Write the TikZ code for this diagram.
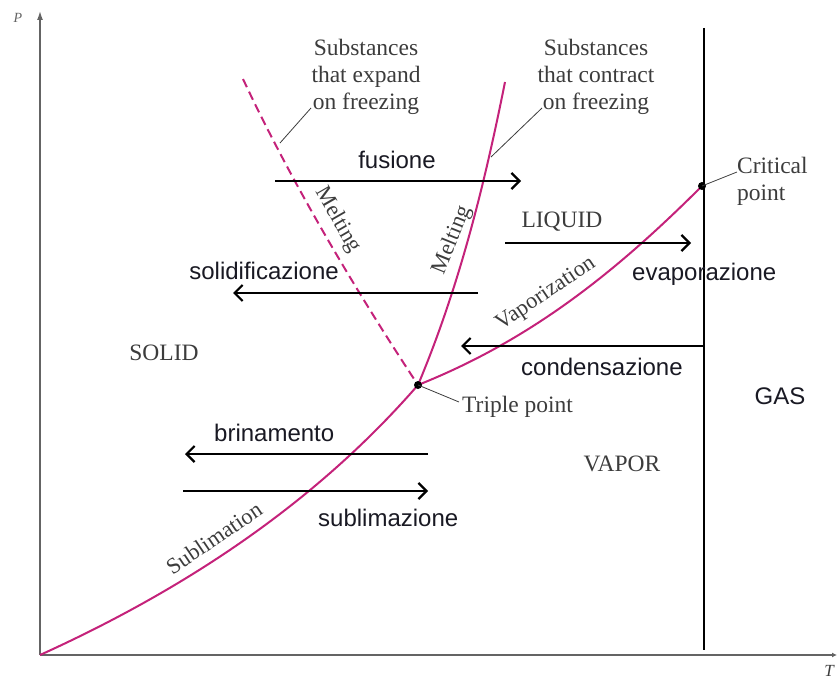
\documentclass[tikz,border=0pt]{standalone}
\usepackage{fontspec}
\setmainfont{Liberation Serif}
\newfontfamily\arialfont{Liberation Sans}
\usetikzlibrary{arrows.meta}
\definecolor{phase}{RGB}{196,34,122}
\definecolor{axisgray}{RGB}{100,100,100}
\definecolor{serifgray}{RGB}{60,60,60}
\definecolor{sanstxt}{RGB}{25,25,35}
\begin{document}
\begin{tikzpicture}[x=1pt,y=-1pt,
  phasecurve/.style={draw=phase, line width=2pt},
  phasedash/.style={draw=phase, line width=2pt, dash pattern=on 9pt off 5pt},
  axisline/.style={draw=axisgray, line width=1.4pt},
  procarrow/.style={draw=black, line width=2.4pt, -{Straight Barb[length=8pt,width=16pt,line width=2.2pt]}},
  leader/.style={draw=serifgray, line width=0.8pt},
  proclbl/.style={font=\arialfont\fontsize{24}{28}\selectfont, text=sanstxt, inner sep=0pt},
  seriflbl/.style={font=\fontsize{23.5}{27}\selectfont, text=serifgray, inner sep=0pt},
  curvelbl/.style={font=\fontsize{22.5}{26}\selectfont, text=serifgray, inner sep=0pt},
  dotpt/.style={fill=black}
]
\useasboundingbox (0,0) rectangle (838,682);
% axes
\coordinate (O) at (40,655);
\coordinate (Ptop) at (40,11);
\coordinate (Tend) at (837,655);
\draw[axisline, -{Latex[length=9pt,width=6pt]}] (O) -- (Ptop);
\draw[axisline, -{Latex[length=5pt,width=5pt]}] (O) -- (Tend);
\node[font=\fontsize{14}{16}\selectfont\itshape, text=axisgray, inner sep=0pt] (Plbl) at (18,18) {P};
\node[font=\fontsize{17}{19}\selectfont\itshape, text=serifgray, inner sep=0pt] (Tlbl) at (829,671) {T};
% key points
\coordinate (tp) at (418,385);
\coordinate (cp) at (702,186);
\coordinate (mtop) at (505,82);
\coordinate (dtop) at (243,79);
% vertical critical isotherm
\coordinate (vt) at (704,28);
\coordinate (vb) at (704,650);
\draw[draw=black, line width=2pt] (vt) -- (vb);
% phase curves
\draw[phasecurve] (O) .. controls (190,587) and (318,500) .. (tp);
\draw[phasecurve] (tp) .. controls (528,341) and (612,276) .. (cp);
\draw[phasecurve] (tp) .. controls (460,285) and (485,182) .. (mtop);
\draw[phasedash] (dtop) .. controls (290,179) and (352,285) .. (tp);
\fill[dotpt] (tp) circle[radius=4pt];
\fill[dotpt] (cp) circle[radius=4pt];
% process arrows
\coordinate (fA) at (275,181); \coordinate (fB) at (521,181);
\coordinate (sA) at (478,293); \coordinate (sB) at (233,293);
\coordinate (eA) at (505,243); \coordinate (eB) at (691,243);
\coordinate (cA) at (704,346); \coordinate (cB) at (461,346);
\coordinate (bA) at (428,454); \coordinate (bB) at (185,454);
\coordinate (uA) at (183,491); \coordinate (uB) at (428,491);
\draw[procarrow] (fA) -- (fB);
\draw[procarrow] (sA) -- (sB);
\draw[procarrow] (eA) -- (eB);
\draw[procarrow] (cA) -- (cB);
\draw[procarrow] (bA) -- (bB);
\draw[procarrow] (uA) -- (uB);
% process labels
\node[proclbl, anchor=base] (fus) at (397,168) {fusione};
\node[proclbl, anchor=base east] (sol) at (339,279) {solidificazione};
\node[proclbl, anchor=base west] (eva) at (632,280) {evaporazione};
\node[proclbl, anchor=base west] (con) at (521,375) {condensazione};
\node[proclbl, anchor=base west] (bri) at (214,441) {brinamento};
\node[proclbl, anchor=base west] (sub) at (318,526) {sublimazione};
\node[proclbl, anchor=base] (gas) at (780,404) {GAS};
% phase region labels
\node[seriflbl, anchor=base] (liq) at (562,227) {LIQUID};
\node[seriflbl, anchor=base] (sld) at (164,360) {SOLID};
\node[seriflbl, anchor=base] (vap) at (622,471) {VAPOR};
% annotations
\node[seriflbl, align=center] (expand) at (366,77) {Substances\\that expand\\on freezing};
\node[seriflbl, align=center] (contract) at (596,77) {Substances\\that contract\\on freezing};
\node[seriflbl, align=left, anchor=west] (crit) at (737,181) {Critical\\point};
\node[seriflbl, anchor=base west] (trip) at (462,412) {Triple point};
\coordinate (le1) at (311,108); \coordinate (le2) at (280,143);
\coordinate (lc1) at (542,108); \coordinate (lc2) at (491,157);
\coordinate (lk) at (737,172);
\coordinate (lt) at (459,402);
\draw[leader] (le1) -- (le2);
\draw[leader] (lc1) -- (lc2);
\draw[leader] (cp) -- (lk);
\draw[leader] (tp) -- (lt);
% curve labels
\node[curvelbl, rotate=-60] (melt1) at (338,220) {Melting};
\node[curvelbl, rotate=68] (melt2) at (452,240) {Melting};
\node[curvelbl, rotate=34] (vapz) at (546,294) {Vaporization};
\node[curvelbl, rotate=34] (subl) at (214,538) {Sublimation};
\end{tikzpicture}
\end{document}
